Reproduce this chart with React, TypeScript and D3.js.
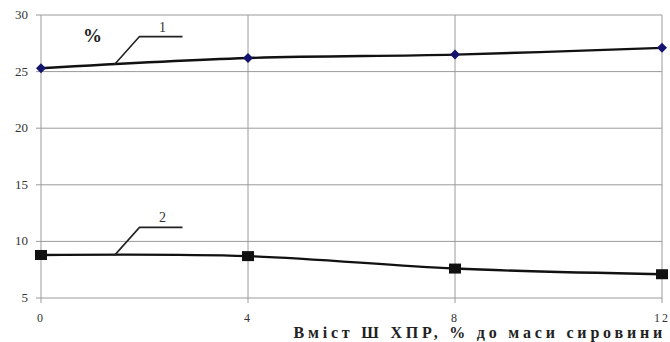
import * as d3 from "d3";

const xTicks = [0, 4, 8, 12];
const yTicks = [5, 10, 15, 20, 25, 30];
const series1 = [25.3, 26.2, 26.5, 27.1];
const series2 = [8.8, 8.7, 7.6, 7.1];
const xTitle = "Вміст Ш ХПР, % до маси сировини";

const W = 670;
const H = 342;
const PAD = { left: 41, right: 8, top: 15, bottom: 44 };
const GRID = "#9a9a9a";
const FONT = "'Liberation Serif', 'Times New Roman', serif";

export default function App() {
  const x = d3.scaleLinear().domain([0, 12]).range([PAD.left, W - PAD.right]);
  const y = d3.scaleLinear().domain([5, 30]).range([H - PAD.bottom, PAD.top]);

  const line = d3
    .line<number>()
    .x((_, i) => x(xTicks[i]))
    .y((d) => y(d))
    .curve(d3.curveCatmullRom.alpha(0.5));

  // leader lines: anchored on curve near x=1.4
  const leaders = [
    { label: "1", v: series1, ax: 1.42, dy: -28 },
    { label: "2", v: series2, ax: 1.42, dy: -28 },
  ];

  return (
    <svg width={W} height={H} style={{ position: "absolute", left: 0, top: 0, background: "#fff" }}>
      <g fontFamily={FONT}>
        {yTicks.map((t) => (
          <g key={`y${t}`}>
            <line x1={PAD.left} x2={W - PAD.right} y1={y(t)} y2={y(t)} stroke={GRID} strokeWidth={1} />
            <line x1={PAD.left - 5} x2={PAD.left} y1={y(t)} y2={y(t)} stroke={GRID} strokeWidth={1} />
            <text x={28} y={y(t) + 4} textAnchor="end" fontSize={13} fill="#333">
              {t}
            </text>
          </g>
        ))}
        {xTicks.map((t) => (
          <g key={`x${t}`}>
            <line x1={x(t)} x2={x(t)} y1={PAD.top} y2={H - PAD.bottom + 5} stroke={GRID} strokeWidth={1} />
            <text x={x(t)} y={H - PAD.bottom + 24} textAnchor="middle" fontSize={12} fill="#333" letterSpacing={2}>
              {t}
            </text>
          </g>
        ))}

        <path d={line(series1) ?? ""} fill="none" stroke="#111" strokeWidth={2.4} />
        <path d={line(series2) ?? ""} fill="none" stroke="#111" strokeWidth={2.4} />

        {series1.map((v, i) => {
          const cx = x(xTicks[i]);
          const cy = y(v);
          return (
            <path
              key={`d${i}`}
              d={`M${cx},${cy - 5}L${cx + 5},${cy}L${cx},${cy + 5}L${cx - 5},${cy}Z`}
              fill="#14146e"
            />
          );
        })}
        {series2.map((v, i) => (
          <rect key={`s${i}`} x={x(xTicks[i]) - 6} y={y(v) - 5} width={12} height={10} fill="#111" />
        ))}

        {leaders.map((l) => {
          const ax = x(l.ax);
          const ay = y(l.v[0] + (l.v[1] - l.v[0]) * (l.ax / 4));
          return (
            <g key={l.label}>
              <path
                d={`M${ax},${ay}L${ax + 25},${ay + l.dy}L${ax + 68},${ay + l.dy}`}
                fill="none"
                stroke="#222"
                strokeWidth={1.6}
              />
              <text x={ax + 48} y={ay + l.dy - 5} textAnchor="middle" fontSize={14} fill="#333">
                {l.label}
              </text>
            </g>
          );
        })}

        <text x={83} y={42} fontSize={19} fontWeight="bold" fill="#222">
          %
        </text>

        <text x={W - 4} y={H - 4} textAnchor="end" fontSize={16} fontWeight="bold" fill="#222" letterSpacing={3.8}>
          {xTitle}
        </text>
      </g>
    </svg>
  );
}
